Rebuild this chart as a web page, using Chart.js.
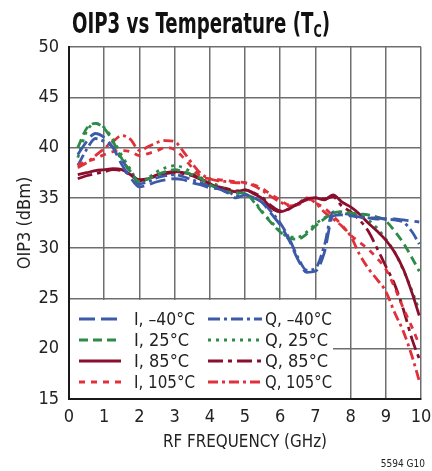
<!DOCTYPE html>
<html>
<head>
<meta charset="utf-8">
<title>OIP3 vs Temperature</title>
<script src="https://cdn.jsdelivr.net/npm/chart.js@4.4.0/dist/chart.umd.min.js"></script>
<style>
body{margin:0;background:#fff;}
canvas{display:block;}
</style>
</head>
<body>
<canvas id="chart" width="432" height="471"></canvas>
<script>
// RF frequency, GHz
var freq = [0.25,0.5,0.75,1.0,1.25,1.5,1.75,2.0,2.25,2.5,2.75,3.0,3.25,3.5,3.75,4.0,4.25,4.5,4.75,5.0,
            5.25,5.5,5.75,6.0,6.25,6.5,6.75,7.0,7.25,7.5,7.75,8.0,8.25,8.5,8.75,9.0,9.25,9.5,9.75,9.95];

// OIP3, dBm
var i_m40 = [39.3,40.6,41.4,41.0,40.0,38.3,37.0,36.1,36.3,36.6,36.8,36.9,36.8,36.5,36.3,36.0,35.9,35.5,35.0,35.3,
             35.0,34.5,33.4,32.3,30.8,28.9,27.6,27.7,29.5,33.2,33.3,33.2,33.1,33.0,33.0,32.9,32.9,32.8,32.7,32.6];
var q_m40 = [38.2,39.8,40.9,40.6,40.0,38.8,37.5,36.4,36.6,37.0,37.2,37.3,37.1,36.8,36.5,36.2,36.0,35.7,35.2,35.3,
             35.0,34.6,33.6,32.5,31.0,29.1,27.8,28.0,30.2,33.6,33.5,33.3,33.1,33.0,32.9,32.9,32.8,32.6,31.6,30.4];
var i_25  = [40.0,41.9,42.4,41.9,40.6,38.9,37.6,36.6,36.9,37.3,37.6,37.8,37.6,37.3,36.9,36.3,35.9,35.6,35.5,35.5,
             34.6,33.5,32.5,31.6,31.0,30.9,31.4,32.2,32.9,33.5,33.6,33.5,33.4,33.3,33.1,32.7,31.7,30.5,29.0,27.7];
var q_25  = [39.0,41.6,42.4,42.0,40.8,39.2,37.8,36.5,37.0,37.6,38.0,38.2,38.0,37.5,37.0,36.6,36.2,35.8,35.5,35.4,
             34.7,33.6,32.6,31.7,31.1,31.1,31.6,32.4,33.0,33.5,33.6,33.5,33.2,32.8,32.0,30.9,29.6,27.8,25.7,23.8];
var i_85  = [37.3,37.5,37.7,37.8,37.9,37.8,37.3,36.7,36.9,37.3,37.5,37.6,37.5,37.3,36.9,36.4,36.0,35.8,35.6,35.8,
             35.4,34.9,34.0,33.6,33.9,34.4,34.9,35.0,34.8,35.3,34.6,34.1,33.4,32.5,31.7,30.8,29.6,27.9,25.5,23.3];
var q_85  = [36.9,37.2,37.4,37.6,37.8,37.7,37.3,36.8,36.9,37.2,37.4,37.5,37.4,37.2,36.8,36.4,36.1,35.9,35.7,35.8,
             35.5,35.0,34.2,33.7,33.9,34.4,34.8,35.0,34.9,35.1,34.2,33.6,32.8,31.7,30.0,28.2,26.4,23.9,20.9,19.0];
var i_105 = [38.3,38.6,38.9,39.3,39.6,39.7,39.6,39.2,39.4,39.7,40.0,39.8,39.0,38.0,37.1,36.9,36.8,36.7,36.6,36.5,
             36.3,35.9,35.3,34.8,34.3,34.3,34.9,34.5,34.0,33.2,32.3,31.3,30.6,29.9,29.0,27.9,26.1,24.0,22.1,20.4];
var q_105 = [38.0,38.5,39.2,39.9,40.6,41.2,40.8,39.7,40.1,40.5,40.7,40.6,39.6,38.4,37.4,36.9,36.7,36.6,36.5,36.5,
             36.2,35.7,35.1,34.6,34.2,34.4,35.0,34.5,33.6,32.9,32.2,31.2,29.4,28.0,26.9,25.7,23.6,21.7,19.2,16.8];

var labels = ['I, –40°C','I, 25°C','I, 85°C','I, 105°C','Q, –40°C','Q, 25°C','Q, 85°C','Q, 105°C'];

var narrow = "'Liberation Sans Narrow', 'DejaVu Sans Condensed', sans-serif";
var blue = '#3c5aa8', green = '#2e8a48', maroon = '#8a0f2e', red = '#e0313b';

var styles = [
    {data: i_m40, color: blue,   dash: [16,6]},
    {data: i_25,  color: green,  dash: [9,5]},
    {data: i_85,  color: maroon, dash: []},
    {data: i_105, color: red,    dash: [6,6]},
    {data: q_m40, color: blue,   dash: [12,4,3,4]},
    {data: q_25,  color: green,  dash: [3,5]},
    {data: q_85,  color: maroon, dash: [15,5,4,5]},
    {data: q_105, color: red,    dash: [10,4,3,4]}
];

var datasets = [];
for (var i = 0; i < styles.length; i++) {
    var pts = [];
    for (var k = 0; k < freq.length; k++) {
        pts.push({x: freq[k], y: styles[i].data[k]});
    }
    datasets.push({
        label: labels[i],
        data: pts,
        borderColor: styles[i].color,
        borderDash: styles[i].dash,
        borderWidth: 2.8,
        pointRadius: 0,
        fill: false,
        tension: 0.4,
        cubicInterpolationMode: 'monotone'
    });
}

// fits a text run into a given width (the reference uses a condensed face)
function squeezeText(c, parts, x, y, w) {
    var total = 0;
    for (var i = 0; i < parts.length; i++) {
        c.font = parts[i].font;
        total += c.measureText(parts[i].text).width;
    }
    var sx = Math.min(1, w / total);
    c.save();
    c.translate(x, y);
    c.scale(sx, 1);
    var cx = 0;
    for (var j = 0; j < parts.length; j++) {
        c.font = parts[j].font;
        c.fillText(parts[j].text, cx, parts[j].dy || 0);
        cx += c.measureText(parts[j].text).width;
    }
    c.restore();
}

var extras = {
    id: 'extras',
    afterDatasetsDraw: function(chart) {
        var c = chart.ctx;
        var area = chart.chartArea;
        // legend box inside plot
        c.save();
        c.fillStyle = '#fff';
        c.fillRect(area.left + 1, area.bottom - 99, 263, 98);
        c.textBaseline = 'middle';
        c.textAlign = 'left';
        var lf = '18px ' + narrow;
        for (var i = 0; i < datasets.length; i++) {
            var col = i < 4 ? 0 : 1;
            var row = i % 4;
            var y = area.bottom - 80 + row * 21;
            var x0 = col === 0 ? area.left + 10 : area.left + 139;
            var len = col === 0 ? 42 : 54;
            c.beginPath();
            c.strokeStyle = styles[i].color;
            c.lineWidth = 2.8;
            c.setLineDash(styles[i].dash);
            c.moveTo(x0, y);
            c.lineTo(x0 + len, y);
            c.stroke();
            c.setLineDash([]);
            c.fillStyle = '#222';
            if (col === 0) {
                squeezeText(c, [{text: labels[i], font: lf}], x0 + len + 13, y + 1, 61);
            } else {
                squeezeText(c, [{text: labels[i], font: lf}], x0 + len + 3, y + 1, 67);
            }
        }
        c.restore();
    },
    afterDraw: function(chart) {
        var c = chart.ctx;
        var area = chart.chartArea;
        c.save();
        c.fillStyle = '#111';
        c.textBaseline = 'alphabetic';
        c.textAlign = 'left';
        var tf = 'bold 29px ' + narrow;
        squeezeText(c, [
            {text: 'OIP3 vs Temperature (T', font: tf},
            {text: 'C', font: 'bold 18px ' + narrow, dy: 4},
            {text: ')', font: tf}
        ], 72, 33, 258);

        c.fillStyle = '#222';
        c.textBaseline = 'middle';
        squeezeText(c, [{text: 'RF FREQUENCY (GHz)', font: '18px ' + narrow}], 163, 442, 164);

        c.save();
        c.translate(25, (area.top + area.bottom) / 2);
        c.rotate(-Math.PI / 2);
        c.font = '18px ' + narrow;
        c.textAlign = 'center';
        c.fillText('OIP3 (dBm)', 0, 0);
        c.restore();

        c.font = '10px ' + narrow;
        c.textAlign = 'right';
        c.fillText('5594 G10', 425, 464);
        c.restore();
    }
};

var ctx = document.getElementById('chart');
var oip3Chart = new Chart(ctx, {
    type: 'line',
    data: {datasets: datasets},
    options: {
        responsive: false,
        animation: false,
        layout: {padding: {left: 0, top: 47, right: 11, bottom: 0}},
        plugins: {
            legend: {display: false},
            title: {display: false},
            tooltip: {enabled: false}
        },
        scales: {
            x: {
                type: 'linear',
                min: 0,
                max: 10,
                ticks: {stepSize: 1, padding: 8, color: '#222', font: {family: narrow, size: 18}},
                grid: {color: '#6e6e6e', lineWidth: 1.5, drawTicks: false},
                border: {color: '#1a1a1a', width: 2},
                afterFit: function(scale) {
                    scale.height = 72;
                    scale.paddingLeft = 0;
                    scale.paddingRight = 0;
                }
            },
            y: {
                min: 15,
                max: 50,
                ticks: {stepSize: 5, padding: 10, color: '#222', font: {family: narrow, size: 18}},
                grid: {color: '#6e6e6e', lineWidth: 1.5, drawTicks: false},
                border: {color: '#1a1a1a', width: 2},
                afterFit: function(scale) { scale.width = 69; }
            }
        }
    },
    plugins: [extras]
});
</script>
</body>
</html>
